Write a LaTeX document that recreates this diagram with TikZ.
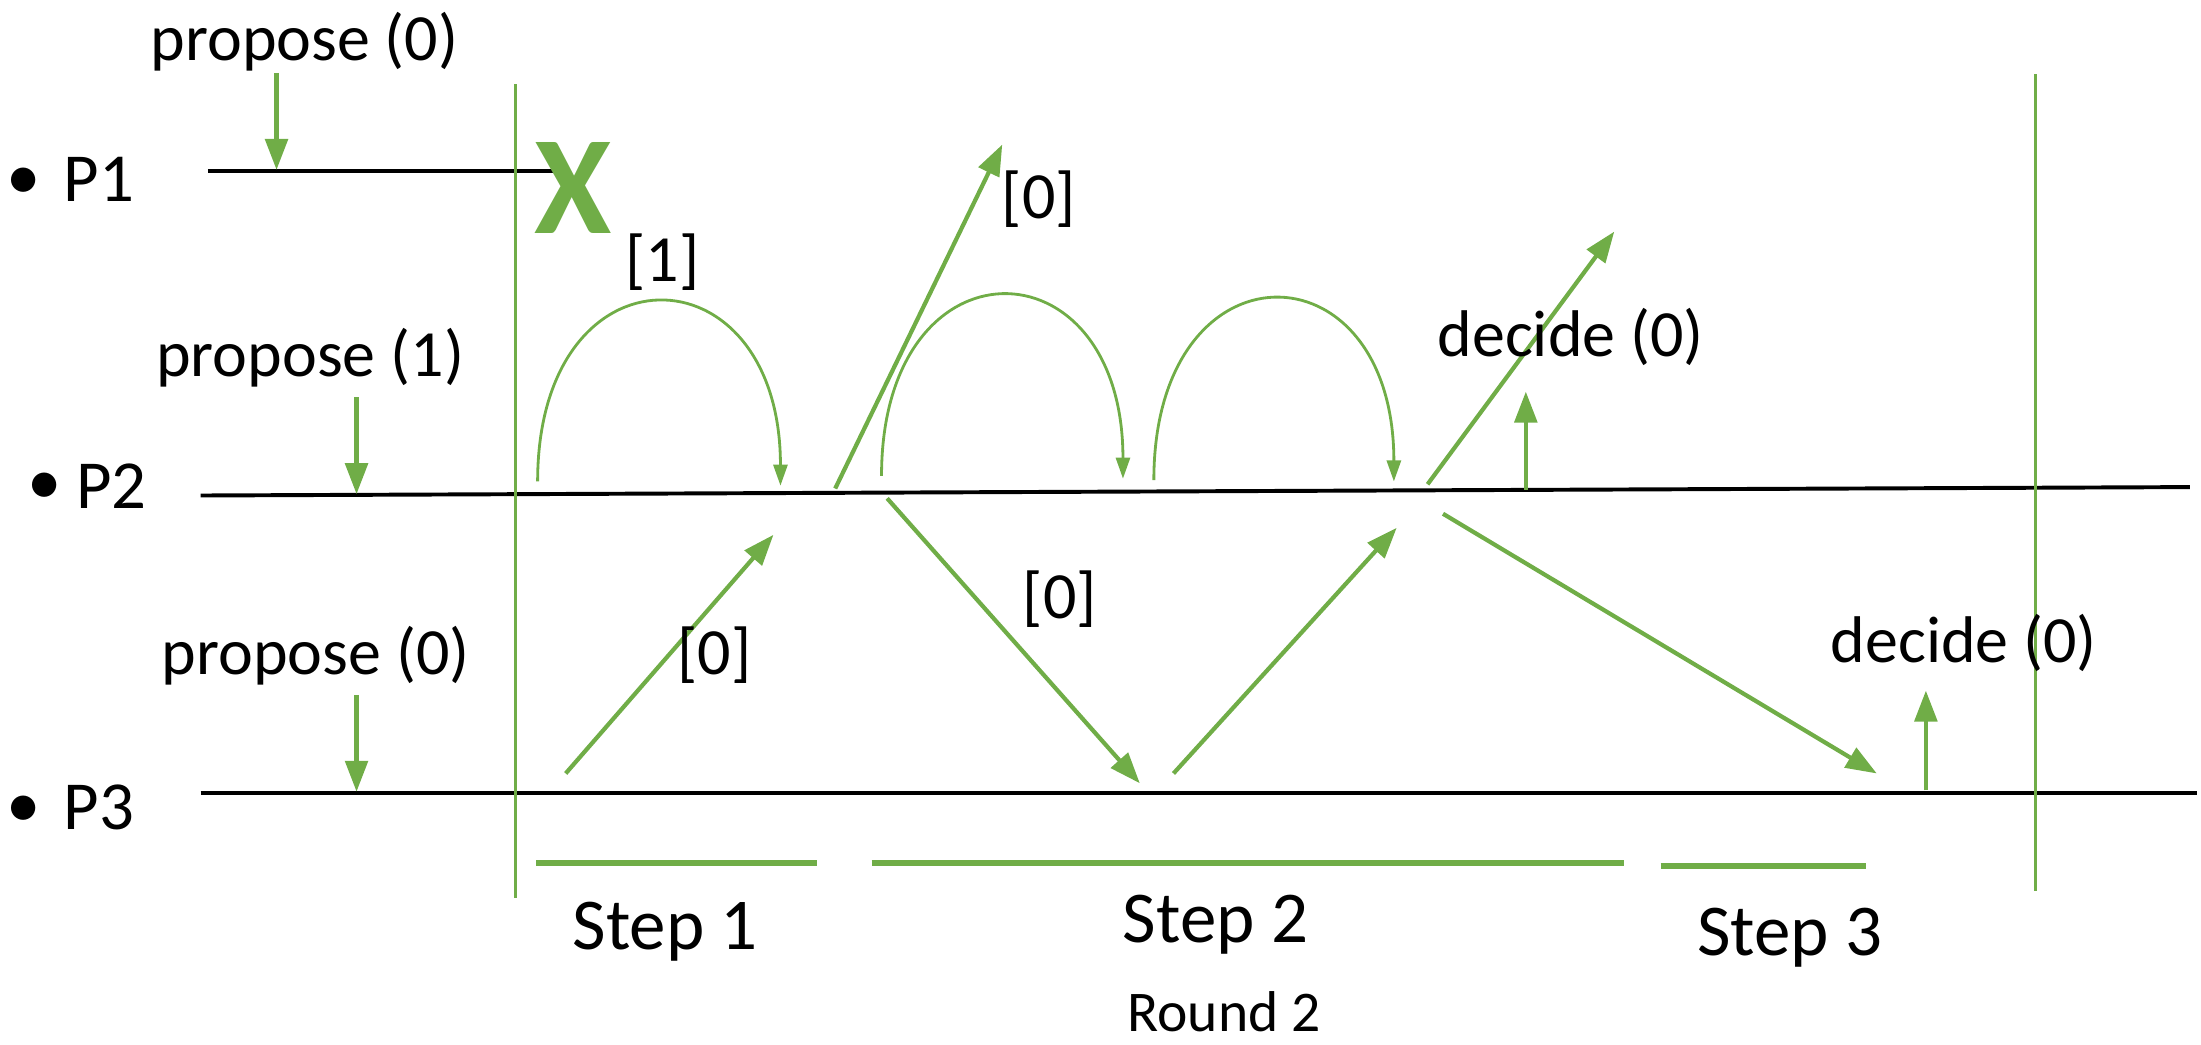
\documentclass[tikz,border=0pt]{standalone}
\usepackage{fontspec}
\setmainfont{Carlito}
\usetikzlibrary{arrows.meta,calc}
\definecolor{ogreen}{HTML}{70AD47}
\begin{document}
\begin{tikzpicture}[x=1pt,y=-1pt,
  lbl/.style={inner sep=0pt, font=\fontsize{47}{50}\selectfont},
  plbl/.style={inner sep=0pt, font=\fontsize{49}{52}\selectfont},
  steplbl/.style={inner sep=0pt, font=\fontsize{52}{56}\selectfont},
  roundlbl/.style={inner sep=0pt, font=\fontsize{41}{44}\selectfont},
  timeline/.style={line width=2.8pt, black},
  boundary/.style={line width=2pt, ogreen},
  msg/.style={line width=3pt, ogreen, -{Triangle[length=22pt,width=16pt]}},
  selfmsg/.style={line width=2pt, ogreen, -{Triangle[length=15pt,width=10pt]}},
  stepbar/.style={line width=4pt, ogreen}]
\useasboundingbox (0,0) rectangle (1568,744);

% process labels
\node[plbl] (b1) at (17,131) {•};
\node[plbl,anchor=west] (p1) at (45,128) {P1};
\node[plbl] (b2) at (32,348) {•};
\node[plbl,anchor=west] (p2) at (54,346) {P2};
\node[plbl] (b3) at (17,578) {•};
\node[plbl,anchor=west] (p3) at (45,575) {P3};

% timelines
\coordinate (l1s) at (148,122); \coordinate (l1e) at (395,122);
\coordinate (l2s) at (143,353); \coordinate (l2e) at (1560,347);
\coordinate (l3s) at (143,565); \coordinate (l3e) at (1565,565);
\draw[timeline] (l1s) -- (l1e);
\draw[timeline] (l2s) -- (l2e);
\draw[timeline] (l3s) -- (l3e);

% round boundaries
\coordinate (v1t) at (367,60); \coordinate (v1b) at (367,640);
\coordinate (v2t) at (1450,53); \coordinate (v2b) at (1450,635);
\draw[boundary] (v1t) -- (v1b);
\draw[boundary] (v2t) -- (v2b);

% crash
\node[text=ogreen, inner sep=0pt, font=\bfseries\fontsize{100}{100}\selectfont] (crash) at (408,134) {X};

% propose
\node[lbl] (pr1) at (217,30) {propose (0)};
\node[lbl] (pr2) at (221,255) {propose (1)};
\node[lbl] (pr3) at (225,467) {propose (0)};
\coordinate (pa1s) at (197,52); \coordinate (pa1e) at (197,121);
\coordinate (pa2s) at (254,283); \coordinate (pa2e) at (254,352);
\coordinate (pa3s) at (254,495); \coordinate (pa3e) at (254,564);
\draw[msg] (pa1s) -- (pa1e);
\draw[msg] (pa2s) -- (pa2e);
\draw[msg] (pa3s) -- (pa3e);

% self messages (arcs)
\coordinate (a1s) at (383,343); \coordinate (a1e) at (556,346);
\coordinate (a2s) at (628,339); \coordinate (a2e) at (800,341);
\coordinate (a3s) at (822,342); \coordinate (a3e) at (993,343);
\draw[selfmsg] (a1s) .. controls ($(a1s)+(0,-172)$) and ($(a1e)+(0,-172)$) .. (a1e);
\draw[selfmsg] (a2s) .. controls ($(a2s)+(0,-172)$) and ($(a2e)+(0,-172)$) .. (a2e);
\draw[selfmsg] (a3s) .. controls ($(a3s)+(0,-172)$) and ($(a3e)+(0,-172)$) .. (a3e);
\node[lbl] (m1) at (472,187) {[1]};

% step 1: P3 -> P2
\coordinate (s1a) at (403,551); \coordinate (s1b) at (551,381);
\draw[msg] (s1a) -- (s1b);
\node[lbl] (m2) at (509,467) {[0]};

% step 2
\coordinate (s2a) at (595,348); \coordinate (s2b) at (714,103);
\draw[msg] (s2a) -- (s2b);
\node[lbl] (m3) at (740,142) {[0]};
\coordinate (s2c) at (632,355); \coordinate (s2d) at (812,558);
\draw[msg] (s2c) -- (s2d);
\node[lbl] (m4) at (755,427) {[0]};
\coordinate (s2e) at (836,551); \coordinate (s2f) at (995,376);
\draw[msg] (s2e) -- (s2f);

% step 3
\coordinate (s3a) at (1017,345); \coordinate (s3b) at (1150,165);
\draw[msg] (s3a) -- (s3b);
\coordinate (s3c) at (1028,366); \coordinate (s3d) at (1337,551);
\draw[msg] (s3c) -- (s3d);

% decide
\node[lbl] (d1) at (1119,240) {decide (0)};
\coordinate (d1s) at (1087,349); \coordinate (d1e) at (1087,279);
\draw[msg] (d1s) -- (d1e);
\node[lbl] (d2) at (1399,458) {decide (0)};
\coordinate (d2s) at (1372,563); \coordinate (d2e) at (1372,492);
\draw[msg] (d2s) -- (d2e);

% step bars
\coordinate (st1a) at (382,615); \coordinate (st1b) at (582,615);
\coordinate (st2a) at (621,615); \coordinate (st2b) at (1157,615);
\coordinate (st3a) at (1183,617); \coordinate (st3b) at (1329,617);
\draw[stepbar] (st1a) -- (st1b);
\draw[stepbar] (st2a) -- (st2b);
\draw[stepbar] (st3a) -- (st3b);
\node[steplbl] (t1) at (474,664) {Step 1};
\node[steplbl] (t2) at (866,659) {Step 2};
\node[steplbl] (t3) at (1275,668) {Step 3};
\node[roundlbl] (rnd) at (872,721) {Round 2};
\end{tikzpicture}
\end{document}
